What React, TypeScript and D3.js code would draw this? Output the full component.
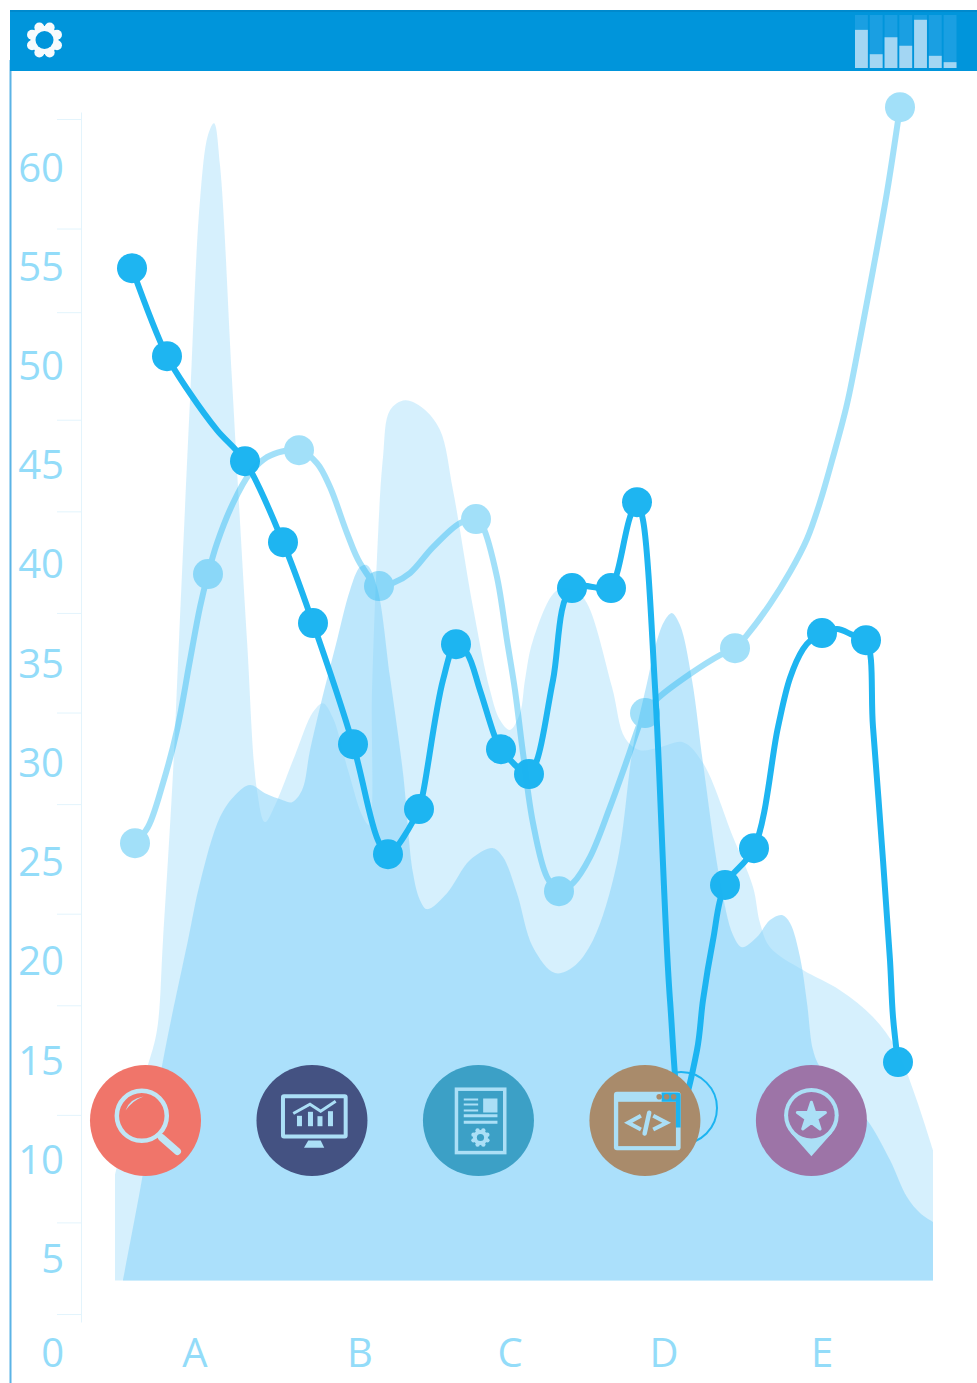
import React, { useEffect, useRef } from 'react'
import * as d3 from 'd3'

// horizontal position runs 0..818 along the plot, values are on the 0..60 axis
const categories = ['A', 'B', 'C', 'D', 'E']
const categoryPos = [80, 245, 395, 549, 707]
const tickValues = [0, 4.6, 10, 15.5, 20.1, 25.6, 30.2, 35.2, 40.3, 44.9, 50.3, 54.5, 60]
const labelValues = [60, 55, 50, 45, 40, 35, 30, 25, 20, 15, 10, 5, 0]
const BASE = 1.68

// the dots
const darkPoints: [number, number][] = [
  [17, 52.51], [52, 48.09], [130, 42.82], [168, 38.75], [198, 34.69], [238, 28.61], [273, 23.09],
  [304, 25.35], [341, 33.63], [386, 28.36], [414, 27.11], [457, 36.45], [496, 36.45], [522, 40.76],
  [566, 10.34], [610, 21.54], [639, 23.39], [707, 34.19], [751, 33.83], [783, 12.65],
]
const lightPoints: [number, number][] = [
  [20, 23.64], [93, 37.15], [184, 43.37], [264, 36.55], [361, 39.91], [444, 21.23], [530, 30.17],
  [620, 33.43], [785, 60.59],
]
// the lines, read along their whole length since they bend between the dots
const darkTrace: [number, number][] = [
  [17, 52.51], [52, 48.09], [75, 46.23], [102, 44.38], [130, 42.82], [168, 38.75], [198, 34.69], [238, 28.61],
  [263, 23.79], [273, 23.09], [304, 25.35], [308, 26.15], [328, 31.83], [341, 33.63], [352, 33.18], [365, 31.32],
  [380, 28.97], [386, 28.36], [414, 27.11], [422, 27.81], [438, 31.83], [457, 36.45], [496, 36.45], [502, 37.2],
  [515, 40.01], [522, 40.76], [528, 39.86], [540, 31.48], [555, 15.76], [566, 10.34], [582, 13.25], [588, 15.76],
  [598, 18.77], [610, 21.54], [639, 23.39], [663, 29.47], [675, 31.93], [688, 33.38], [697, 33.89], [707, 34.19],
  [722, 34.39], [738, 34.09], [751, 33.83], [758, 29.47], [768, 22.79], [775, 17.77], [778, 14.91], [783, 12.65],
]
const lightTrace: [number, number][] = [
  [20, 23.64], [33, 24.45], [48, 26.66], [62, 29.32], [75, 32.83], [85, 35.49], [93, 37.15], [102, 38.7],
  [118, 40.71], [135, 42.22], [152, 43.02], [168, 43.32], [184, 43.37], [202, 42.72], [215, 41.52], [232, 39.21],
  [245, 37.7], [264, 36.55], [278, 36.7], [295, 37.2], [318, 38.5], [345, 39.71], [361, 39.91], [368, 39.51],
  [382, 37], [392, 33.83], [400, 31.32], [408, 28.16], [418, 24.65], [432, 21.94], [444, 21.23], [458, 21.64],
  [475, 22.94], [495, 25.45], [512, 27.81], [525, 29.67], [530, 30.17], [543, 30.92], [575, 32.13], [605, 33.08],
  [620, 33.43], [632, 34.09], [655, 35.64], [675, 37.25], [692, 38.91], [705, 40.76], [718, 43.02], [732, 45.68],
  [745, 48.95], [758, 52.41], [772, 56.32], [785, 60.59],
]
const paleArea: [number, number][] = [
  [0, 6.98], [10, 8.99], [32, 12.35], [42, 14.26], [48, 18.77], [58, 27.16], [64, 33.83], [75, 45.88],
  [85, 55.92], [93, 59.19], [99, 59.79], [105, 57.68], [117, 46.89], [132, 33.83], [142, 26.3], [150, 24.7],
  [160, 25.55], [180, 28.06], [198, 30.22], [208, 30.67], [218, 29.92], [233, 27.31], [247, 25.05],
  [254, 24.55], [257, 31.32], [262, 38], [268, 43.02], [275, 45.38], [290, 45.88], [308, 45.48], [325, 44.38],
  [338, 41.36], [358, 35.49], [375, 31.32], [385, 29.82], [395, 29.32], [405, 30.17], [410, 31.83],
  [418, 33.83], [442, 36.34], [460, 36.34], [472, 35.69], [497, 31.48], [510, 28.92], [525, 28.31],
  [545, 28.46], [568, 28.71], [588, 27.66], [618, 23.95], [638, 21.44], [645, 19.63], [655, 18.42],
  [688, 17.27], [725, 16.26], [758, 14.91], [782, 13.25], [800, 10.99], [818, 8.23],
]
const midArea: [number, number][] = [
  [8, 1.71], [25, 6.22], [50, 13.25], [73, 18.77], [85, 21.64], [105, 24.95], [120, 26.05], [135, 26.56],
  [150, 26.15], [168, 25.8], [177, 25.7], [187, 26.3], [195, 28.31], [205, 30.47], [222, 33.83], [235, 36.34],
  [245, 37.5], [252, 37.6], [262, 36.5], [275, 31.98], [288, 27.16], [298, 22.14], [305, 20.78], [312, 20.33],
  [332, 21.13], [355, 22.79], [378, 23.39], [388, 22.94], [402, 21.13], [418, 18.42], [440, 17.12],
  [458, 17.42], [478, 18.77], [502, 22.64], [518, 28.46], [532, 31.68], [542, 33.83], [550, 34.84],
  [557, 35.19], [565, 34.59], [577, 31.83], [588, 27.66], [605, 21.79], [618, 19.03], [627, 18.42],
  [642, 18.93], [655, 19.78], [667, 20.03], [675, 19.63], [685, 17.92], [692, 15.61], [698, 13.25],
  [705, 12.4], [730, 10.89], [752, 9.74], [775, 7.73], [792, 5.87], [805, 5.07], [818, 4.62],
]
const miniBars = [72, 26, 58, 42, 91, 23, 11]
const iconNames = ['search', 'monitor', 'doc', 'code', 'pin']
const iconColors = ['#f0756a', '#445282', '#3ca0c6', '#a98b6b', '#9d74a7']

const BLUE = '#1ab4f1'
const FONT = '"Open Sans", sans-serif'
const LABEL = '#93dcf9'
const ICON = '#abdff6'

type G = d3.Selection<SVGGElement, unknown, null, undefined>

function gear(g: G, cx: number, cy: number, lobeAt: number, lobeR: number, body: number, hole: number, color: string, holeColor: string) {
  d3.range(8).forEach((i) => {
    const a = (i + 0.5) * Math.PI / 4
    g.append('circle').attr('cx', cx + lobeAt * Math.cos(a)).attr('cy', cy + lobeAt * Math.sin(a)).attr('r', lobeR).attr('fill', color)
  })
  g.append('circle').attr('cx', cx).attr('cy', cy).attr('r', body).attr('fill', color)
  g.append('circle').attr('cx', cx).attr('cy', cy).attr('r', hole).attr('fill', holeColor)
}

function drawIcon(g: G, name: string, bg: string) {
  const line = (d: string, w: number, color = ICON) =>
    g.append('path').attr('d', d).attr('fill', 'none').attr('stroke', color).attr('stroke-width', w)

  if (name === 'search') {
    g.append('circle').attr('cx', -3.7).attr('cy', -4.7).attr('r', 25).attr('fill', 'none').attr('stroke', '#c0e6f5').attr('stroke-width', 4.5)
    g.append('path').attr('d', 'M-20,-10 Q-16,-22 -2,-24 Q-13,-20 -20,-10').attr('fill', '#c0e6f5')
    line('M16,17 L32,31', 7, '#c0e6f5').attr('stroke-linecap', 'round')
  }
  if (name === 'monitor') {
    g.append('rect').attr('x', -29).attr('y', -24.3).attr('width', 62.7).attr('height', 40.3).attr('rx', 1).attr('fill', 'none').attr('stroke', ICON).attr('stroke-width', 4)
    g.append('path').attr('d', 'M-3.7,20 L8.7,20 L12.3,27.3 L-8,27.3 Z').attr('fill', ICON)
    const bars = [[-15, -4.7], [-4, -8.7], [5.5, -4.3], [16, -9.3]]
    bars.forEach(([x, top]) => g.append('rect').attr('x', x).attr('y', top).attr('width', 5).attr('height', 5.7 - top).attr('fill', ICON))
    line('M-18.7,-7 L-2,-16.3 L8.7,-9.3 L23.7,-19.3', 3)
  }
  if (name === 'doc') {
    g.append('rect').attr('x', -22).attr('y', -31.3).attr('width', 48.3).attr('height', 63.4).attr('fill', 'none').attr('stroke', ICON).attr('stroke-width', 3.5)
    ;[-21, -16, -10].forEach((y) => line(`M-14.7,${y} L-0.3,${y}`, 2))
    g.append('rect').attr('x', 4.7).attr('y', -22).attr('width', 14.3).attr('height', 14).attr('fill', ICON)
    ;[-4.7, 1.7].forEach((y) => line(`M-14.7,${y} L19,${y}`, 3))
    gear(g, 2, 17, 7.5, 2.2, 7.5, 3.6, ICON, bg)
  }
  if (name === 'code') {
    g.append('rect').attr('x', -31).attr('y', -28.7).attr('width', 66.7).attr('height', 58.4).attr('rx', 3).attr('fill', ICON)
    g.append('rect').attr('x', -26.7).attr('y', -18.7).attr('width', 57.7).attr('height', 44.3).attr('fill', bg)
    g.append('path').attr('d', 'M16.7,-28 L33,-28 Q35.7,-28 35.7,-25 L35.7,7 L31,7 L31,-18.7 L16.7,-18.7 Z').attr('fill', BLUE)
    ;[14.3, 21.7, 28.7].forEach((x) => g.append('circle').attr('cx', x).attr('cy', -23.7).attr('r', 2.8).attr('fill', bg))
    line('M-4,-4.7 L-16.7,2.3 L-4,9', 4)
    line('M8.3,-4.7 L21.7,2.3 L8.3,9', 4)
    line('M4.3,-7.7 L-0.3,13', 4.5).attr('stroke-linecap', 'round')
  }
  if (name === 'pin') {
    g.append('circle').attr('cy', -5.3).attr('r', 27.3).attr('fill', ICON)
    g.append('path').attr('d', 'M-21,12 L0,35.7 L21,12 Z').attr('fill', ICON)
    g.append('circle').attr('cy', -5.3).attr('r', 23.3).attr('fill', bg)
    g.append('path').attr('transform', 'translate(0,-3.5)')
      .attr('d', d3.symbol(d3.symbolStar, 245)())
      .attr('fill', ICON).attr('stroke', ICON).attr('stroke-width', 3).attr('stroke-linejoin', 'round')
  }
}

export default function App() {
  const svgRef = useRef<SVGSVGElement>(null)

  useEffect(() => {
    const svg = d3.select(svgRef.current)
    svg.selectAll('*').remove()

    const x = d3.scaleLinear().domain([0, 818]).range([115, 933])
    const y = d3.scaleLinear().domain([-0.4, 60.35]).range([1322, 112])
    const labelY = d3.scaleLinear().domain([0, 5, 60]).range([1367, 1273, 181.5])

    const lineGen = d3.line<[number, number]>().x((d) => x(d[0])).y((d) => y(d[1])).curve(d3.curveCatmullRom.alpha(0.5))
    const areaGen = d3.area<[number, number]>().x((d) => x(d[0])).y0(y(BASE)).y1((d) => y(d[1])).curve(d3.curveCatmullRom.alpha(0.5))

    // page frame
    svg.append('rect').attr('x', 9.5).attr('y', 60).attr('width', 2).attr('height', 1323).attr('fill', '#5bb3e6')

    // areas
    svg.append('path').datum(paleArea).attr('d', areaGen).attr('fill', '#89d4fa').attr('opacity', 0.35)
    svg.append('path').datum(midArea).attr('d', areaGen).attr('fill', '#89d4fa').attr('opacity', 0.56)

    // y axis, labels sit between the ticks
    const axis = svg.append('g').attr('transform', 'translate(81,0)')
      .call(d3.axisLeft(y).tickValues(tickValues).tickSizeInner(24).tickSizeOuter(0).tickFormat(() => ''))
    axis.selectAll('path, line').attr('stroke', '#e3f4fc').attr('stroke-width', 1)

    svg.append('g').selectAll('text').data(labelValues).join('text')
      .attr('x', 64).attr('y', (d) => labelY(d)).attr('text-anchor', 'end')
      .attr('font-family', FONT).attr('font-weight', 400).attr('font-size', 40).attr('fill', LABEL)
      .text((d) => d)

    svg.append('g').selectAll('text').data(categories).join('text')
      .attr('x', (_, i) => x(categoryPos[i])).attr('y', labelY(0)).attr('text-anchor', 'middle')
      .attr('font-family', FONT).attr('font-weight', 400).attr('font-size', 40).attr('fill', LABEL)
      .text((d) => d)

    // light series
    const light = svg.append('g').attr('opacity', 0.4)
    light.append('path').datum(lightTrace).attr('d', lineGen).attr('fill', 'none').attr('stroke', BLUE).attr('stroke-width', 6)
    light.selectAll('circle').data(lightPoints).join('circle')
      .attr('cx', (d) => x(d[0])).attr('cy', (d) => y(d[1])).attr('r', 15).attr('fill', BLUE)

    // dark series, the low point only shows its ring
    const lowPoint = d3.least(darkPoints, (d) => d[1])
    const dark = svg.append('g').attr('opacity', 0.98)
    dark.append('path').datum(darkTrace).attr('d', lineGen).attr('fill', 'none').attr('stroke', BLUE).attr('stroke-width', 6)
    dark.append('g').selectAll('circle').data(darkPoints.filter((d) => d !== lowPoint)).join('circle')
      .attr('cx', (d) => x(d[0])).attr('cy', (d) => y(d[1])).attr('r', 15).attr('fill', BLUE)
    dark.append('circle').datum(lowPoint).attr('cx', (d) => x(d[0])).attr('cy', (d) => y(d[1]))
      .attr('r', 36).attr('fill', 'none').attr('stroke', BLUE).attr('stroke-width', 2)

    // round icons
    const iconX = d3.scalePoint().domain(iconNames).range([145.5, 811.4])
    iconNames.forEach((name, i) => {
      const g = svg.append('g').attr('transform', `translate(${iconX(name)},1120.5)`) as unknown as G
      g.append('circle').attr('r', 55.5).attr('fill', iconColors[i])
      drawIcon(g, name, iconColors[i])
    })

    // header bar
    svg.append('rect').attr('x', 10).attr('y', 10).attr('width', 967).attr('height', 61).attr('fill', '#0095db')
    svg.append('rect').attr('x', 10).attr('y', 10).attr('width', 967).attr('height', 2).attr('fill', '#0089cc')
    gear(svg.append('g') as unknown as G, 44.5, 40, 13.5, 5, 14, 9, '#f7fbfd', '#0095db')

    const miniX = d3.scaleBand<number>().domain(d3.range(miniBars.length)).range([855, 956.5]).paddingInner(0.13)
    const miniY = d3.scaleLinear().domain([0, 100]).range([68, 15])
    const mini = svg.append('g')
    mini.selectAll('rect.bg').data(miniBars).join('rect').attr('class', 'bg')
      .attr('x', (_, i) => miniX(i)).attr('width', miniX.bandwidth())
      .attr('y', miniY(100)).attr('height', miniY(0) - miniY(100)).attr('fill', '#1a9fe2')
    mini.selectAll('rect.fg').data(miniBars).join('rect').attr('class', 'fg')
      .attr('x', (_, i) => miniX(i)).attr('width', miniX.bandwidth())
      .attr('y', (d) => miniY(d)).attr('height', (d) => miniY(0) - miniY(d)).attr('fill', '#a3d6f3')
  }, [])

  return <svg ref={svgRef} width={977} height={1383} style={{ position: 'absolute', left: 0, top: 0, display: 'block' }} />
}
